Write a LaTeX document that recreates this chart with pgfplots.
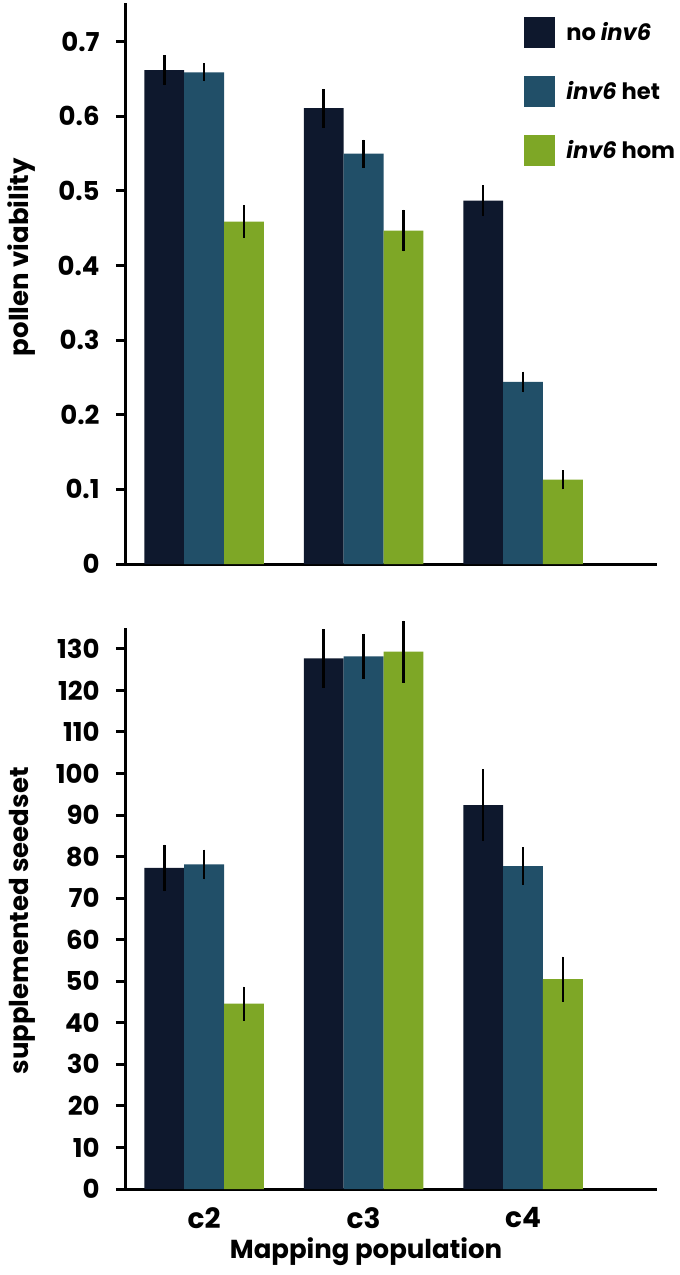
\documentclass[border=0pt]{standalone}
\usepackage{pgfplots}
\pgfplotsset{compat=1.18}
\usepackage{pgfplotstable}
\usepackage{fontspec}
\setmainfont{Poppins}
\definecolor{cdark}{RGB}{14,24,45}
\definecolor{cteal}{RGB}{33,79,104}
\definecolor{cgreen}{RGB}{126,167,38}

\pgfplotstableread{
x y e
0 0.662 0.020
1 0.611 0.026
2 0.487 0.021
}\pvdark
\pgfplotstableread{
x y e
0 0.659 0.012
1 0.550 0.019
2 0.244 0.014
}\pvteal
\pgfplotstableread{
x y e
0 0.459 0.022
1 0.447 0.028
2 0.113 0.013
}\pvgreen
\pgfplotstableread{
x y e
0 77.3 5.6
1 127.7 7.1
2 92.4 8.6
}\ssdark
\pgfplotstableread{
x y e
0 78.1 3.6
1 128.2 5.4
2 77.7 4.5
}\ssteal
\pgfplotstableread{
x y e
0 44.6 4.1
1 129.3 7.5
2 50.5 5.4
}\ssgreen

\newcommand{\tf}{\fontsize{13}{15}\selectfont\bfseries}
\newcommand{\lf}{\fontsize{11.3}{13}\selectfont\bfseries}

\pgfplotsset{
  panel/.style={
    width=265.5pt, height=280.5pt, scale only axis,
    xmin=-0.49, xmax=2.84, ymin=0,
    ybar, bar width=0.25,
    axis lines*=left,
    axis line style={line width=1.5pt, black},
    tick align=outside,
    major tick length=5pt,
    ytick style={line width=1.5pt, black},
    xtick style={draw=none},
    yticklabel style={font=\tf, inner sep=0pt, xshift=-8pt},
    ylabel style={font=\tf, anchor=center},
    clip=false,
    every axis plot/.append style={draw=none},
    legend image code/.code={\fill[##1] (0pt,-7.75pt) rectangle (15.5pt,7.75pt);},
  },
  ebar/.style={error bars/.cd, y dir=both, y explicit, error mark=none,
    error bar style={line width=1.3pt, black}},
}

\begin{document}
\begin{tikzpicture}
\path[use as bounding box] (-63pt,1.5pt) rectangle (277pt,-636pt);

\begin{axis}[panel, at={(0pt,0pt)}, anchor=north west,
  ymax=0.752,
  ytick={0,0.1,0.2,0.3,0.4,0.5,0.6,0.7},
  yticklabels={0,0.1,0.2,0.3,0.4,0.5,0.6,0.7},
  xtick=\empty,
  ylabel={pollen viability},
  ylabel style={at={(axis description cs:-0.196,0.547)}},
  legend style={at={(axis description cs:0.7495,0.975)}, anchor=north west,
    draw=none, fill=none, inner sep=0pt, row sep=14pt,
    nodes={inner sep=0pt, anchor=west, font=\lf},
    /tikz/every odd column/.append style={column sep=5.5pt}},
  legend cell align=left,
]
\addplot[fill=cdark, bar shift=-0.25, ebar] table[x=x,y=y,y error=e]{\pvdark};
\addplot[fill=cteal, bar shift=0, ebar] table[x=x,y=y,y error=e]{\pvteal};
\addplot[fill=cgreen, bar shift=0.25, ebar] table[x=x,y=y,y error=e]{\pvgreen};
\legend{no \textit{inv6}, \textit{inv6} het, \textit{inv6} hom}
\end{axis}

\begin{axis}[panel, at={(0pt,-312.5pt)}, anchor=north west,
  ymax=135,
  ytick={0,10,...,130},
  yticklabels={0,10,20,30,40,50,60,70,80,90,100,110,120,130},
  xtick={0,1,2},
  xticklabels={c2,c3,c4},
  xticklabel style={font=\fontsize{14}{16}\selectfont\bfseries, anchor=center, inner sep=0pt, yshift=-9.5pt},
  ylabel={supplemented seedset},
  ylabel style={at={(axis description cs:-0.196,0.478)}},
  xlabel={Mapping population},
  xlabel style={font=\tf, at={(axis description cs:0.452,0)}, anchor=center, yshift=-31.5pt},
]
\addplot[fill=cdark, bar shift=-0.25, ebar] table[x=x,y=y,y error=e]{\ssdark};
\addplot[fill=cteal, bar shift=0, ebar] table[x=x,y=y,y error=e]{\ssteal};
\addplot[fill=cgreen, bar shift=0.25, ebar] table[x=x,y=y,y error=e]{\ssgreen};
\end{axis}
\end{tikzpicture}
\end{document}
